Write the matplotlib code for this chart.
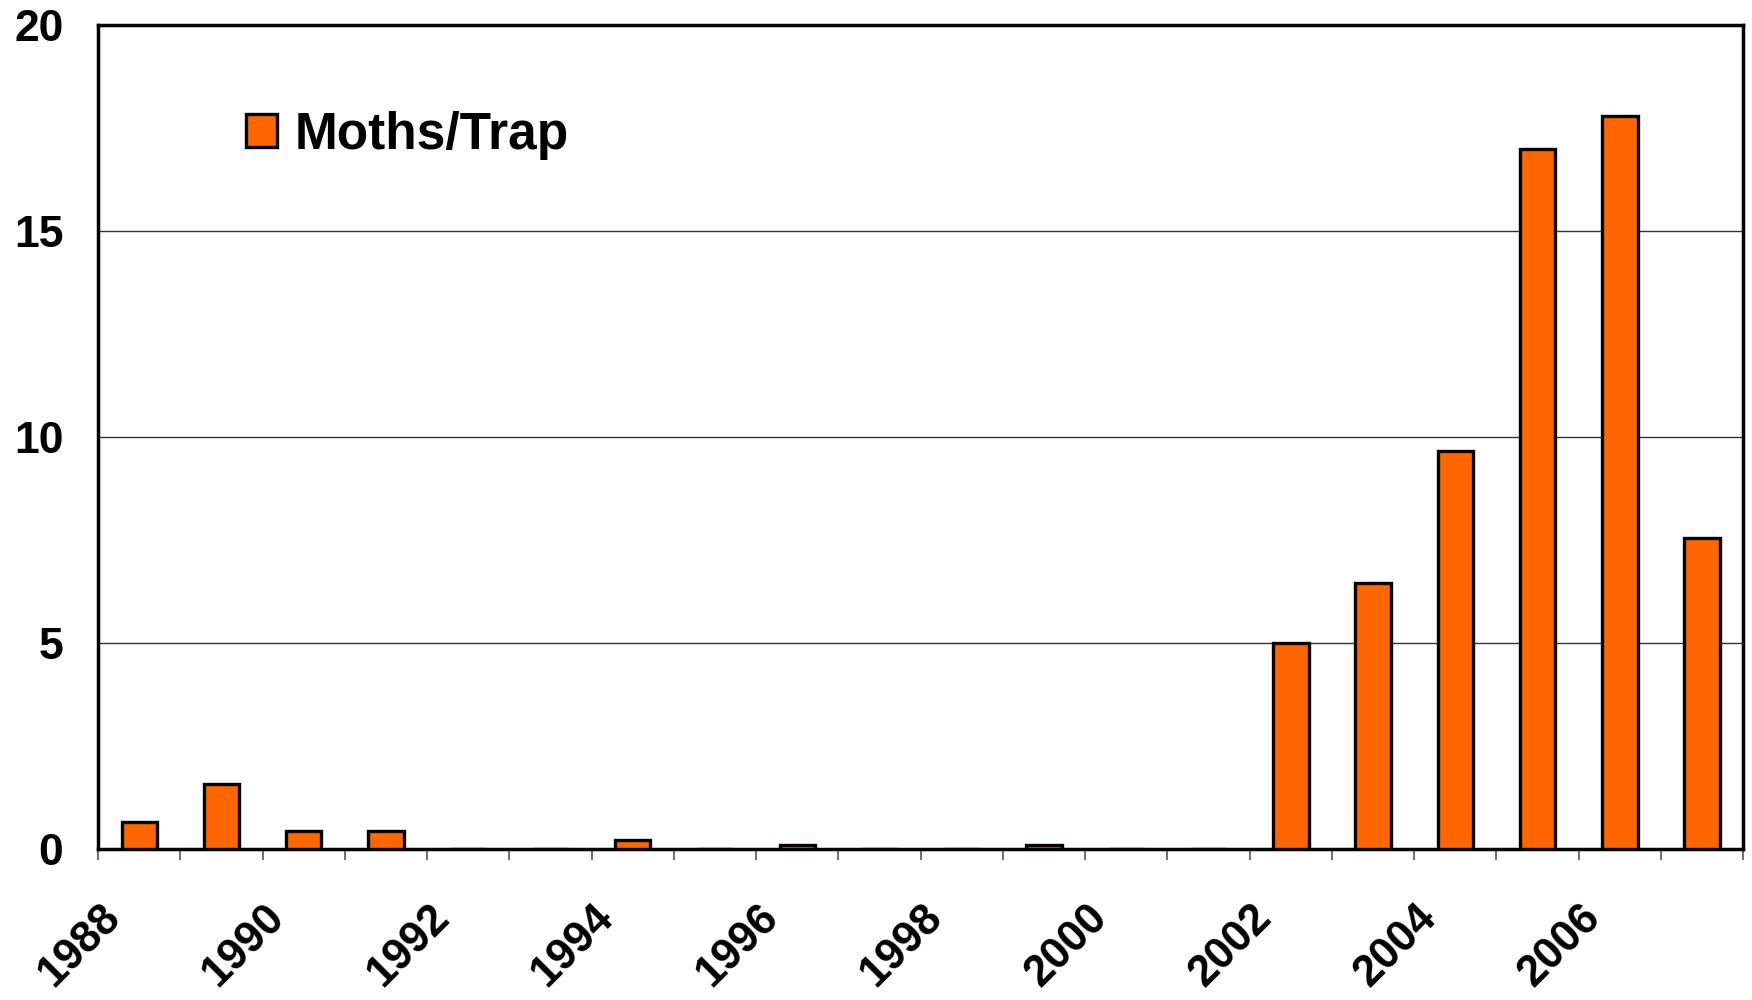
import numpy as np
import matplotlib
matplotlib.use("Agg")
import matplotlib.pyplot as plt
from matplotlib.transforms import ScaledTranslation

years = list(range(1988, 2008))
moths_per_trap = [0.65, 1.57, 0.43, 0.43, 0.0, 0.0, 0.22, 0.0, 0.1, 0.0,
                  0.0, 0.1, 0.0, 0.0, 5.0, 6.45, 9.65, 17.0, 17.8, 7.56]
label_years = years[::2]
y_ticks = [0, 5, 10, 15, 20]

plt.rcParams['font.family'] = ['Liberation Sans', 'DejaVu Sans']
plt.rcParams['font.weight'] = 'bold'

fig = plt.figure(figsize=(17.52, 10), dpi=100)
ax = fig.add_axes([0.056, 0.151, 0.939, 0.824])

x = np.arange(len(years))
ax.bar(x, moths_per_trap, width=0.43, color='#FF6600', edgecolor='black',
       linewidth=2.4, label='Moths/Trap', zorder=3)

ax.set_xlim(-0.5, len(years) - 0.5)
ax.set_ylim(0, 20)
ax.set_yticks(y_ticks)
ax.set_yticklabels([str(v) for v in y_ticks], fontsize=32, fontweight='bold')
ax.tick_params(axis='y', length=0, pad=25)

for v in y_ticks[1:-1]:
    ax.axhline(v, color='#333333', linewidth=1.0, zorder=1)

# labels at every other category, tick marks at category boundaries
ax.set_xticks([years.index(y) for y in label_years])
ax.set_xticklabels([str(y) for y in label_years], fontsize=31.5, fontweight='bold',
                   rotation=45, ha='right', va='top', rotation_mode='anchor')
ax.tick_params(axis='x', which='major', length=0, pad=34)
ax.set_xticks(np.arange(-0.5, len(years), 1.0), minor=True)
ax.tick_params(axis='x', which='minor', length=8, width=1.2, color='#555555', direction='out')

shift = ScaledTranslation(-0.40, 0, fig.dpi_scale_trans)
for lbl in ax.get_xticklabels():
    lbl.set_transform(lbl.get_transform() + shift)

for side in ['left', 'bottom', 'top', 'right']:
    ax.spines[side].set_linewidth(2.5)
    ax.spines[side].set_color('black')

ax.legend(loc='center left', bbox_to_anchor=(0.09, 0.866), frameon=False,
          handlelength=0.6, handleheight=0.6, handletextpad=0.34,
          borderpad=0, borderaxespad=0, prop={'weight': 'bold', 'size': 37})

fig.savefig('out.png', dpi=100, facecolor='white')
